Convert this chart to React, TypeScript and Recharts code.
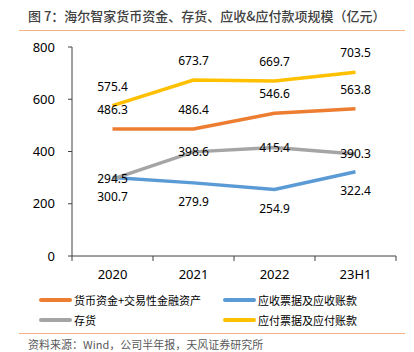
import { LineChart, Line, XAxis, YAxis, LabelList } from "recharts";

const categories = ["2020", "2021", "2022", "23H1"];
const cash = [486.3, 486.4, 546.6, 563.8];
const receivables = [300.7, 279.9, 254.9, 322.4];
const inventory = [294.5, 398.6, 415.4, 390.3];
const payables = [575.4, 673.7, 669.7, 703.5];
const yTicks = [0, 200, 400, 600, 800];

const TITLE = "图 7：海尔智家货币资金、存货、应收&应付款项规模（亿元）";
const SOURCE = "资料来源：Wind，公司半年报，天风证券研究所";

const SERIES = [
  { key: "cash", name: "货币资金+交易性金融资产", color: "#ED7D31", pos: "top" },
  { key: "receivables", name: "应收票据及应收账款", color: "#5B9BD5", pos: "bottom" },
  { key: "inventory", name: "存货", color: "#A5A5A5", pos: "center" },
  { key: "payables", name: "应付票据及应付账款", color: "#FFC000", pos: "top" },
];

const data = categories.map((c, i) => ({
  x: i + 0.5,
  cat: c,
  cash: cash[i],
  receivables: receivables[i],
  inventory: inventory[i],
  payables: payables[i],
}));

// boundary ticks at integers, category labels at half steps
const xTicks: number[] = [];
for (let i = 0; i <= categories.length; i++) {
  xTicks.push(i);
  if (i < categories.length) xTicks.push(i + 0.5);
}

const NUM_FONT = "'Noto Sans', 'Noto Sans CJK SC', sans-serif";
const CJK_FONT = "'Noto Sans CJK SC', sans-serif";
const AXIS = "#404040";

function XTick(props: any) {
  const { x, y, payload } = props;
  const v = payload.value as number;
  if (Number.isInteger(v)) {
    return <line x1={x} x2={x} y1={y} y2={y + 5} stroke={AXIS} strokeWidth={1} />;
  }
  return (
    <text x={x} y={y + 23} textAnchor="middle" fontSize={13} fill="#000" fontFamily={NUM_FONT}>
      {categories[Math.floor(v)]}
    </text>
  );
}

function LegendItem({ name, color, left, top }: any) {
  return (
    <div style={{ position: "absolute", left, top, display: "flex", alignItems: "center" }}>
      <div style={{ width: 33, height: 4, borderRadius: 2, background: color }} />
      <span style={{ marginLeft: 2, fontSize: 11, fontFamily: CJK_FONT, color: "#000", lineHeight: "14px" }}>
        {name}
      </span>
    </div>
  );
}

export default function App() {
  return (
    <div
      style={{
        position: "absolute",
        left: 0,
        top: 0,
        width: 414,
        height: 352,
        background: "#fff",
        overflow: "hidden",
      }}
    >
      <div
        style={{
          position: "absolute",
          left: 28,
          top: 7,
          fontSize: 13,
          fontWeight: 500,
          color: "#404040",
          fontFamily: CJK_FONT,
          lineHeight: "18px",
          whiteSpace: "nowrap",
        }}
      >
        {TITLE}
      </div>
      <div style={{ position: "absolute", left: 19, top: 30, width: 386, height: 1, background: "#F4B183" }} />

      <LineChart
        width={414}
        height={352}
        data={data}
        margin={{ top: 47, right: 18, bottom: 66, left: 32 }}
        style={{ position: "absolute", left: 0, top: 0 }}
      >
        <XAxis
          dataKey="x"
          type="number"
          domain={[0, categories.length]}
          ticks={xTicks}
          interval={0}
          tickSize={0}
          tickMargin={0}
          tickLine={false}
          tick={<XTick />}
          height={30}
          stroke={AXIS}
        />
        <YAxis
          domain={[0, 800]}
          ticks={yTicks}
          interval={0}
          width={40}
          tickSize={4}
          tickMargin={13}
          stroke={AXIS}
          tick={{ fontSize: 13, fill: "#000", fontFamily: NUM_FONT }}
        />
        {SERIES.map((s) => (
          <Line
            key={s.key}
            dataKey={s.key}
            name={s.name}
            stroke={s.color}
            strokeWidth={3.5}
            dot={false}
            type="linear"
            isAnimationActive={false}
          >
            <LabelList
              dataKey={s.key}
              position={s.pos as any}
              offset={s.pos === "center" ? 0 : 15}
              style={{ fontSize: 12, fill: "#000", fontFamily: NUM_FONT }}
            />
          </Line>
        ))}
      </LineChart>

      <LegendItem name={SERIES[0].name} color={SERIES[0].color} left={39} top={293} />
      <LegendItem name={SERIES[1].name} color={SERIES[1].color} left={223} top={293} />
      <LegendItem name={SERIES[2].name} color={SERIES[2].color} left={39} top={313} />
      <LegendItem name={SERIES[3].name} color={SERIES[3].color} left={223} top={313} />

      <div style={{ position: "absolute", left: 19, top: 333, width: 386, height: 1, background: "#F4B183" }} />
      <div
        style={{
          position: "absolute",
          left: 28,
          top: 338,
          fontSize: 11,
          color: "#595959",
          fontFamily: CJK_FONT,
          lineHeight: "13px",
          whiteSpace: "nowrap",
        }}
      >
        {SOURCE}
      </div>
    </div>
  );
}
